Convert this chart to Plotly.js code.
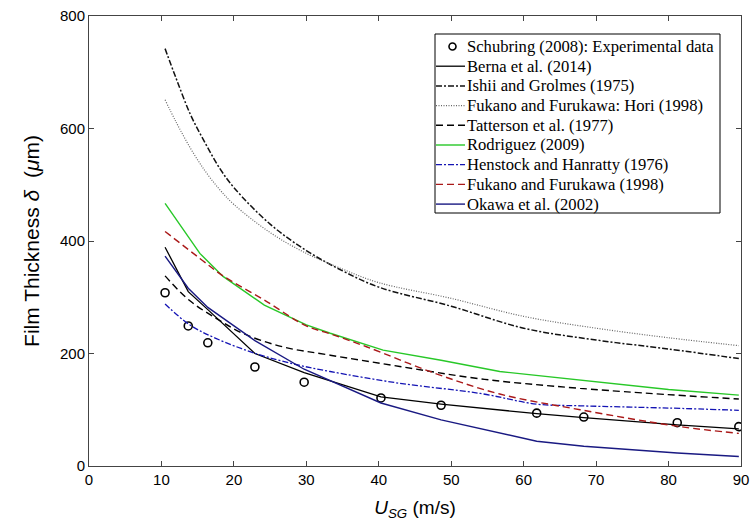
<!DOCTYPE html>
<html><head><meta charset="utf-8">
<script src="https://cdn.plot.ly/plotly-3.0.1.min.js"></script>
<style>html,body{margin:0;padding:0;background:#fff}</style>
</head><body>
<div id="chart" style="width:755px;height:522px"></div>
<script>
// Experimental data (Schubring 2008)
const expX = [10.5, 13.7, 16.4, 22.9, 29.7, 40.3, 48.6, 61.8, 68.3, 81.2, 89.7];
const expY = [308, 249, 219, 176, 149, 121, 108, 94, 87, 77, 70];

// Berna et al. (2014)
const bernaX = [10.5, 13.7, 16.4, 22.9, 29.7, 40.3, 48.6, 61.8, 68.3, 81.2, 89.7];
const bernaY = [389, 310, 278, 200, 166, 123, 110, 93, 86, 73, 66];

// Ishii and Grolmes (1975)
const ishiiX = [10.5, 12, 14, 16, 18, 20, 25, 30, 35, 40, 50, 60, 70, 80, 89.7];
const ishiiY = [742, 690, 625, 575, 530, 495, 430, 383, 347, 318, 284, 245, 224, 208, 191];

// Fukano and Furukawa: Hori (1998)
const horiX = [10.5, 12, 14, 16, 18, 20, 25, 30, 35, 40, 50, 60, 70, 80, 89.7];
const horiY = [651, 612, 565, 525, 492, 465, 415, 378, 350, 326, 298, 266, 245, 228, 214];

// Tatterson et al. (1977)
const tattX = [10.5, 13.8, 17.5, 21.2, 26.7, 33.3, 42.9, 54, 67.8, 89.7];
const tattY = [338, 295, 263, 236, 212, 197, 177, 155, 138, 119];

// Rodriguez (2009)
const rodX = [10.5, 15.3, 18.5, 24.2, 30, 33.3, 40.6, 48.6, 56.7, 67.8, 80, 89.7];
const rodY = [467, 378, 337, 286, 251, 236, 206, 188, 168, 153, 136, 126];

// Henstock and Hanratty (1976)
const henX = [10.5, 13.9, 17.5, 23.0, 28.7, 33.3, 42.9, 54, 61.8, 67.8, 80, 89.7];
const henY = [288, 251, 227, 200, 180, 168, 147, 129, 110, 107, 103, 99];

// Fukano and Furukawa (1998)
const fukX = [10.5, 15.3, 18.5, 24.2, 30, 33.3, 38.3, 47.7, 56.7, 67.8, 81.6, 89.7];
const fukY = [417, 369, 338, 295, 249, 235, 212, 165, 128, 100, 70, 58];

// Okawa et al. (2002)
const okaX = [10.5, 13.7, 16.4, 22.9, 29.7, 40.3, 48.6, 61.8, 68.3, 81.2, 89.7];
const okaY = [373, 316, 282, 223, 172, 112, 82, 44, 35, 23, 17];

const xTicks = [0, 10, 20, 30, 40, 50, 60, 70, 80, 90];
const yTicks = [0, 200, 400, 600, 800];

const DASHDOT = '6px,2px,2px,2px';
const DASH = '7px,4px';
const DOT = '1px,1.5px';

const traces = [
  {x: expX, y: expY, name: 'Schubring (2008): Experimental data', mode: 'markers', type: 'scatter',
   marker: {symbol: 'circle-open', size: 8, color: '#000', line: {width: 1.6, color: '#000'}}},
  {x: bernaX, y: bernaY, name: 'Berna et al. (2014)', mode: 'lines', type: 'scatter',
   line: {color: '#000', width: 1.3, dash: 'solid'}},
  {x: ishiiX, y: ishiiY, name: 'Ishii and Grolmes (1975)', mode: 'lines', type: 'scatter', line: {shape: 'spline', color: '#111', width: 1.5, dash: DASHDOT}},
  {x: horiX, y: horiY, name: 'Fukano and Furukawa: Hori (1998)', mode: 'lines', type: 'scatter', line: {shape: 'spline', color: '#666', width: 1.2, dash: DOT}},
  {x: tattX, y: tattY, name: 'Tatterson et al. (1977)', mode: 'lines', type: 'scatter', line: {shape: 'spline', color: '#000', width: 1.4, dash: DASH}},
  {x: rodX, y: rodY, name: 'Rodriguez (2009)', mode: 'lines', type: 'scatter',
   line: {color: 'rgb(40,200,40)', width: 1.4, dash: 'solid'}},
  {x: henX, y: henY, name: 'Henstock and Hanratty (1976)', mode: 'lines', type: 'scatter', line: {shape: 'spline', color: 'rgb(20,20,180)', width: 1.3, dash: DASHDOT}},
  {x: fukX, y: fukY, name: 'Fukano and Furukawa (1998)', mode: 'lines', type: 'scatter', line: {shape: 'spline', color: 'rgb(170,25,25)', width: 1.4, dash: DASH}},
  {x: okaX, y: okaY, name: 'Okawa et al. (2002)', mode: 'lines', type: 'scatter', line: {color: 'rgb(25,25,130)', width: 1.4, dash: 'solid'}}
];

// ---- Legend box (MATLAB style, compact), built from the traces ----
const L = 89, T = 16, W = 652, H = 450;          // plot area in px
const px2x = p => (p - L) / W;
const px2y = p => (T + H - p) / H;
const legLeft = 435, legRight = 720, legTop = 34, legBottom = 213;
const rowY0 = 46.5, rowStep = 19.7, symX0 = 436, symX1 = 465, textX = 466;

const shapes = [{
  type: 'rect', xref: 'paper', yref: 'paper',
  x0: px2x(legLeft), x1: px2x(legRight), y0: px2y(legBottom), y1: px2y(legTop),
  line: {color: '#000', width: 1}, fillcolor: '#fff', layer: 'above'
}];
const annotations = [];
traces.forEach((t, i) => {
  const cy = rowY0 + rowStep * i;
  if (t.mode === 'markers') {
    shapes.push({type: 'circle', xref: 'paper', yref: 'paper', xsizemode: 'pixel', ysizemode: 'pixel',
      xanchor: px2x((symX0 + symX1) / 2 + 2), yanchor: px2y(cy), x0: -3.5, x1: 3.5, y0: -3.5, y1: 3.5,
      line: {color: '#000', width: 1.6}, layer: 'above'});
  } else {
    shapes.push({type: 'line', xref: 'paper', yref: 'paper',
      x0: px2x(symX0), x1: px2x(symX1), y0: px2y(cy), y1: px2y(cy),
      line: {color: t.line.color, width: t.line.width, dash: t.line.dash}, layer: 'above'});
  }
  annotations.push({xref: 'paper', yref: 'paper', x: px2x(textX), y: px2y(cy),
    xanchor: 'left', yanchor: 'middle', showarrow: false, text: t.name,
    font: {family: 'Liberation Serif, Times New Roman, serif', size: 16.6, color: '#000'}, borderpad: 0});
});

const axisFont = {family: 'Liberation Sans, Arial, sans-serif', size: 15, color: '#000'};

const layout = {
  width: 755, height: 522,
  margin: {l: L, r: 755 - L - W, t: T, b: 522 - T - H, pad: 0},
  paper_bgcolor: '#fff', plot_bgcolor: '#fff',
  showlegend: false,
  shapes: shapes,
  annotations: annotations,
  xaxis: {
    range: [0, 90], tickmode: 'array', tickvals: xTicks, ticktext: xTicks.map(String),
    ticks: 'inside', ticklen: 5, tickcolor: '#444', showline: true, linecolor: '#444', linewidth: 1,
    mirror: 'ticks', showgrid: false, zeroline: false, tickfont: axisFont,
    title: {text: '<i>U</i><sub><i>SG</i></sub> (m/s)', font: {family: 'Liberation Sans, Arial, sans-serif', size: 19, color: '#000'}, standoff: 13}
  },
  yaxis: {
    range: [0, 800], tickmode: 'array', tickvals: yTicks, ticktext: yTicks.map(String),
    ticks: 'inside', ticklen: 5, tickcolor: '#444', showline: true, linecolor: '#444', linewidth: 1,
    mirror: 'ticks', showgrid: false, zeroline: false, tickfont: axisFont,
    title: {text: 'Film Thickness <i>δ</i>  (<i>μ</i>m)', font: {family: 'Liberation Sans, Arial, sans-serif', size: 21, color: '#000'}, standoff: 14}
  }
};

Plotly.newPlot('chart', traces, layout, {displayModeBar: false, staticPlot: true});
</script>
</body></html>
